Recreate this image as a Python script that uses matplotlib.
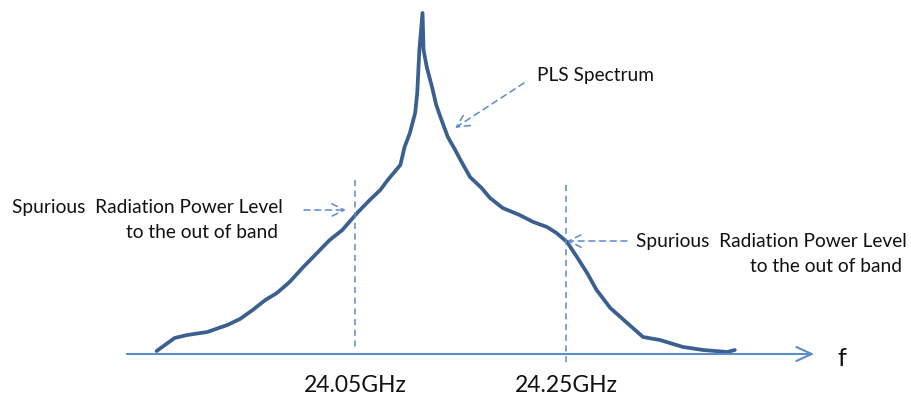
import matplotlib
matplotlib.use("Agg")
import matplotlib.pyplot as plt

# ---- data (frequency in GHz, relative power level above baseline) ----
freq_ghz = [23.862, 23.879, 23.891, 23.910, 23.929, 23.941, 23.953, 23.965, 23.976, 23.988,
            24.001, 24.014, 24.026, 24.038, 24.052, 24.064, 24.074, 24.081, 24.093, 24.097,
            24.102, 24.107, 24.109, 24.111, 24.114, 24.115, 24.118, 24.123, 24.127, 24.132,
            24.138, 24.145, 24.150, 24.159, 24.170, 24.178, 24.190, 24.206, 24.219, 24.232,
            24.241, 24.251, 24.261, 24.270, 24.279, 24.292, 24.308, 24.323, 24.339, 24.361,
            24.380, 24.403, 24.410]
level = [3, 16, 19, 22, 29, 35, 44, 54, 61, 72,
         87, 101, 114, 124, 141, 154, 164, 174, 189, 207,
         221, 241, 261, 304, 341, 304, 287, 267, 249, 234,
         217, 204, 194, 177, 166, 156, 146, 139, 132, 127,
         121, 112, 96, 81, 64, 46, 31, 17, 14, 7,
         4, 2, 4]
band_edges = [24.05, 24.25]
band_labels = ["24.05GHz", "24.25GHz"]
curve_label = "PLS Spectrum"
spur_label = ["Spurious  Radiation Power Level", "to the out of band"]
axis_label = "f"

W, H = 911, 403
fig = plt.figure(figsize=(W / 100, H / 100), dpi=100)
ax = fig.add_axes([0, 0, 1, 1])
k = 0.2 / 211.0          # GHz per pixel
x0 = 24.05 - 355 * k
ax.set_xlim(x0, x0 + W * k)
ax.set_ylim(354 - H, 354)
ax.axis("off")

def X(px):
    return x0 + px * k

def Y(py):
    return 354 - py

curve_c = "#3B5F8F"
light_c = "#5B8BC9"
font = ["Lato", "DejaVu Sans"]
txt_c = "#111111"
fs = 13.8

# curve
ax.plot(freq_ghz, level, color=curve_c, lw=2.7, solid_capstyle="round", solid_joinstyle="round")

# frequency axis with open arrow head
ax.annotate("", xy=(X(817), 0), xytext=(X(124), 0),
            arrowprops=dict(arrowstyle="->,head_length=1.1,head_width=0.5", color=light_c, lw=1.5))
ax.text(X(842), Y(358), axis_label, fontsize=18, family=font, ha="center", va="center", color=txt_c)

# band edge dashed lines
ax.plot([band_edges[0]] * 2, [Y(180), Y(348)], ls=(0, (4, 3)), color=light_c, lw=1.1)
ax.plot([band_edges[1]] * 2, [Y(185), Y(363)], ls=(0, (4, 3)), color=light_c, lw=1.1)
for f, lab in zip(band_edges, band_labels):
    ax.text(f, Y(385), lab, fontsize=16.5, family=font, ha="center", va="center", color=txt_c)

# dashed annotation arrows
arrow_kw = dict(arrowstyle="->,head_length=0.9,head_width=0.45", color=light_c, lw=1.1,
                linestyle=(0, (4, 3)), shrinkA=0, shrinkB=0)
ax.annotate("", xy=(X(346), Y(210)), xytext=(X(304), Y(210)), arrowprops=arrow_kw)
ax.annotate("", xy=(X(567), Y(241)), xytext=(X(627), Y(241)), arrowprops=arrow_kw)
ax.annotate("", xy=(X(455), Y(128)), xytext=(X(524), Y(83)), arrowprops=arrow_kw)

# texts
ax.text(X(537), Y(75), curve_label, fontsize=fs, family=font, ha="left", va="center", color=txt_c)
ax.text(X(283), Y(208), spur_label[0], fontsize=fs, family=font, ha="right", va="center", color=txt_c)
ax.text(X(278), Y(232), spur_label[1], fontsize=fs, family=font, ha="right", va="center", color=txt_c)
ax.text(X(907), Y(242), spur_label[0], fontsize=fs, family=font, ha="right", va="center", color=txt_c)
ax.text(X(902), Y(266), spur_label[1], fontsize=fs, family=font, ha="right", va="center", color=txt_c)

fig.savefig("out.png", dpi=100)
